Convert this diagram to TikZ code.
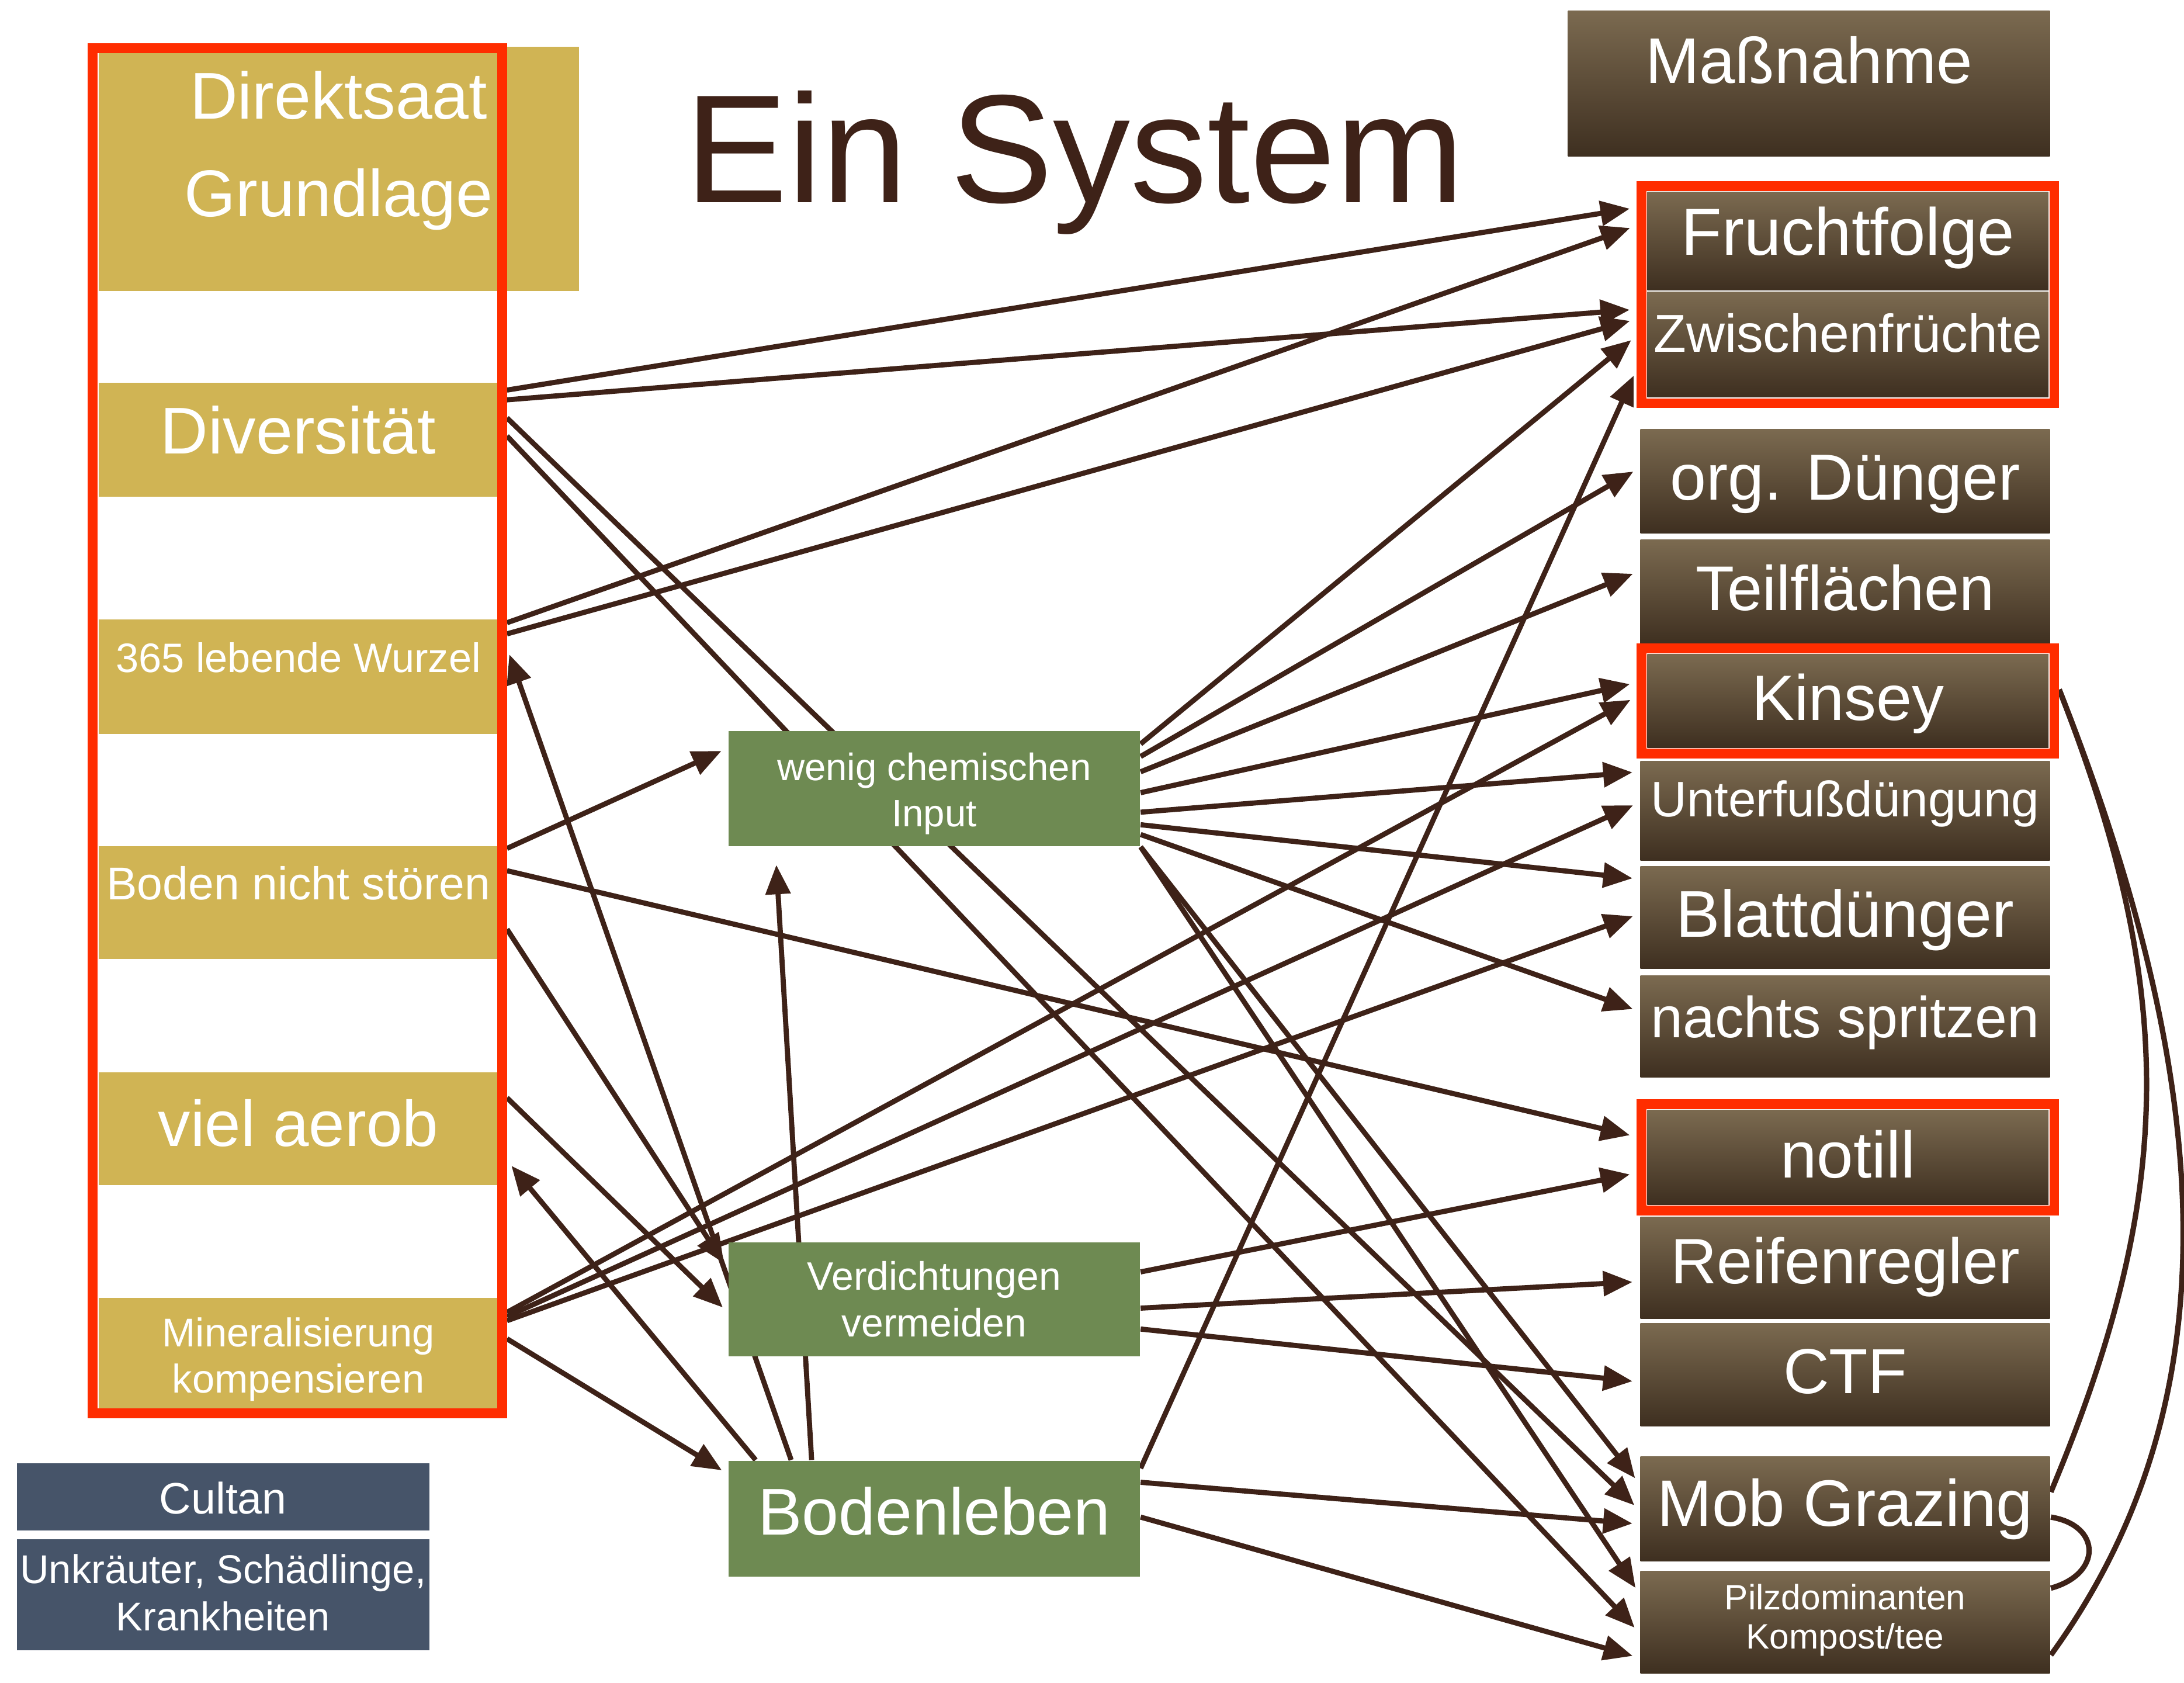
\documentclass[tikz,border=0pt]{standalone}
\usepackage{fontspec}
\setmainfont{Liberation Sans}
\usetikzlibrary{arrows.meta,fit}
\definecolor{GoldBox}{HTML}{D0B454}
\definecolor{GreenBox}{HTML}{6E8A52}
\definecolor{SlateBox}{HTML}{465469}
\definecolor{BrownTop}{HTML}{7B6A50}
\definecolor{BrownBot}{HTML}{3E2F20}
\definecolor{FrameRed}{HTML}{FF2D00}
\definecolor{LinkBrown}{HTML}{3E2218}
\pgfdeclarelayer{bg}
\pgfsetlayers{bg,main}

\begin{document}
\begin{tikzpicture}[x=0.1mm,y=-0.1mm,
  boxbase/.style={anchor=north west,inner sep=0pt,align=center,text=white},
  txt/.style 2 args={font=\fontsize{#1}{#2}\selectfont},
  goldbox/.style={boxbase,fill=GoldBox,minimum width=28.7mm},
  greenbox/.style={boxbase,fill=GreenBox,minimum width=29.5mm},
  slatebox/.style={boxbase,fill=SlateBox,minimum width=29.6mm},
  brownbox/.style={boxbase,top color=BrownTop,bottom color=BrownBot,minimum width=29.4mm},
  redframe/.style={draw=FrameRed,line width=0.7mm,inner sep=0.35mm},
  link/.style={draw=LinkBrown,line width=1.05pt,-{Triangle[length=2.1mm,width=1.75mm]},shorten >=0.5mm},
  curveline/.style={draw=LinkBrown,line width=1.1pt}]
  \useasboundingbox (0,0) rectangle (1568,1208);

  % title
  \node[anchor=base west,inner sep=0pt,text=LinkBrown,txt={31.5}{36}] (tit) at (491,145.4) {Ein System};

  % left column
  \node[goldbox,minimum width=34.5mm,text height=12.16mm,text depth=5.34mm,txt={13.5}{19.9}] (dir) at (70,33) {Direktsaat\\Grundlage};
  \node[goldbox,text height=5.1mm,text depth=3.1mm,txt={13.5}{16}] (div) at (70,274) {Diversität};
  \node[goldbox,text height=3.8mm,text depth=4.4mm,txt={8.4}{10}] (wur) at (70,444) {365 lebende Wurzel};
  \node[goldbox,text height=3.84mm,text depth=4.28mm,txt={9.4}{11}] (bns) at (70,606.6) {Boden nicht stören};
  \node[goldbox,text height=5.3mm,text depth=2.8mm,txt={13.2}{16}] (aer) at (70,769) {viel aerob};
  \node[goldbox,text height=6.8mm,text depth=1.2mm,txt={8.2}{9.4}] (min) at (70,931) {Mineralisierung\\kompensieren};
  \node[redframe,minimum width=29.4mm,minimum height=98mm] (frm) at (213.5,524.5) {};

  \node[slatebox,minimum height=4.84mm,text height=3.64mm,text depth=1.2mm,txt={9}{11}] (cul) at (11.5,1049.6) {Cultan};
  \node[slatebox,text height=6.6mm,text depth=1.4mm,txt={8.2}{9.7}] (unk) at (11.5,1104) {Unkräuter, Schädlinge,\\Krankheiten};

  % middle column
  \node[greenbox,text height=6.88mm,text depth=1.37mm,txt={7.8}{9.5}] (wen) at (522.5,524) {wenig chemischen\\Input};
  \node[greenbox,text height=6.78mm,text depth=1.42mm,txt={8.1}{9.5}] (ver) at (522.5,891) {Verdichtungen\\vermeiden};
  \node[greenbox,text height=5.29mm,text depth=3.01mm,txt={13.5}{16}] (bod) at (522.5,1048) {Bodenleben};

  % right column
  \node[brownbox,minimum width=34.6mm,text height=5.2mm,text depth=5.26mm,txt={13.2}{16}] (mas) at (1125,7) {Maßnahme};
  \node[brownbox,minimum width=28.8mm,text height=4.56mm,text depth=2.5mm,txt={13.6}{16}] (fru) at (1182,137) {Fruchtfolge};
  \node[brownbox,minimum width=28.8mm,text height=4.3mm,text depth=3.25mm,txt={10.9}{13}] (zwi) at (1182,209) {Zwischenfrüchte};
  \node[brownbox,text height=5.05mm,text depth=2.4mm,txt={13.3}{16}] (org) at (1177,307.5) {org. Dünger};
  \node[brownbox,text height=5.07mm,text depth=2.45mm,txt={12.9}{16}] (tei) at (1177,386.8) {Teilflächen};
  \node[brownbox,minimum width=28.8mm,text height=4.75mm,text depth=1.95mm,txt={13.1}{16}] (kin) at (1182,469) {Kinsey};
  \node[brownbox,text height=4.0mm,text depth=3.15mm,txt={10.2}{12}] (unt) at (1177,545.5) {Unterfußdüngung};
  \node[brownbox,text height=5.1mm,text depth=2.25mm,txt={13.5}{16}] (bla) at (1177,621) {Blattdünger};
  \node[brownbox,text height=4.44mm,text depth=2.87mm,txt={11.8}{14}] (nac) at (1177,699.6) {nachts spritzen};
  \node[brownbox,minimum width=28.8mm,text height=4.86mm,text depth=1.94mm,txt={13.4}{16}] (nti) at (1182,796) {notill};
  \node[brownbox,text height=4.76mm,text depth=2.54mm,txt={13.1}{16}] (rei) at (1177,873) {Reifenregler};
  \node[brownbox,text height=5.07mm,text depth=2.33mm,txt={13}{16}] (ctf) at (1177,949) {CTF};
  \node[brownbox,text height=4.98mm,text depth=2.52mm,txt={13.4}{16}] (mob) at (1177,1045) {Mob Grazing};
  \node[brownbox,text height=5.57mm,text depth=1.78mm,txt={7.2}{7.9}] (pil) at (1177,1127) {Pilzdominanten\\Kompost/tee};

  \node[redframe,fit=(fru)(zwi)] (ffz) {};
  \node[redframe,fit=(kin)] (fkn) {};
  \node[redframe,fit=(nti)] (fnt) {};

  \begin{pgfonlayer}{bg}
  % Diversitaet
  \draw[link] (frm.east |- 0,280) -- (ffz.west |- 0,149);
  \draw[link] (frm.east |- 0,287) -- (ffz.west |- 0,222);
  \draw[link] (frm.east |- 0,300) -- (mob.west |- 0,1084);
  \draw[link] (frm.east |- 0,313) -- (pil.west |- 0,1172);
  % 365 lebende Wurzel
  \draw[link] (frm.east |- 0,447) -- (ffz.west |- 0,162);
  \draw[link] (frm.east |- 0,455) -- (ffz.west |- 0,229);
  % Boden nicht stoeren
  \draw[link] (frm.east |- 0,609) -- (wen.west |- 0,537);
  \draw[link] (frm.east |- 0,625) -- (fnt.west |- 0,816);
  \draw[link] (frm.east |- 0,667) -- (ver.west |- 0,911);
  % viel aerob
  \draw[link] (frm.east |- 0,788) -- (ver.west |- 0,942);
  % Mineralisierung
  \draw[link] (frm.east |- 0,942) -- (fkn.west |- 0,500);
  \draw[link] (frm.east |- 0,945) -- (unt.west |- 0,576);
  \draw[link] (frm.east |- 0,948) -- (bla.west |- 0,656);
  \draw[link] (frm.east |- 0,961) -- (bod.west |- 0,1058);
  % wenig chemischen Input
  \draw[link] (wen.east |- 0,534) -- (ffz.west |- 0,241);
  \draw[link] (wen.east |- 0,543) -- (org.west |- 0,336);
  \draw[link] (wen.east |- 0,554) -- (tei.west |- 0,410);
  \draw[link] (wen.east |- 0,569) -- (fkn.west |- 0,490);
  \draw[link] (wen.east |- 0,583) -- (unt.west |- 0,554);
  \draw[link] (wen.east |- 0,592) -- (bla.west |- 0,631);
  \draw[link] (wen.east |- 0,599) -- (nac.west |- 0,726);
  \draw[link] (wen.south east) -- (mob.west |- 0,1065);
  \draw[link] (wen.south east) -- (pil.west |- 0,1144);
  % Verdichtungen vermeiden
  \draw[link] (ver.east |- 0,913) -- (fnt.west |- 0,842);
  \draw[link] (ver.east |- 0,939) -- (rei.west |- 0,920);
  \draw[link] (ver.east |- 0,954) -- (ctf.west |- 0,992);
  % Bodenleben
  \draw[link] (bod.north -| 568,0) -- (frm.east |- 0,465);
  \draw[link] (bod.north -| 542.5,0) -- (frm.east |- 0,833);
  \draw[link,shorten >=1.3mm] (bod.north -| 582.7,0) -- (wen.south -| 556.6,0);
  \draw[link] (bod.east |- 0,1054) -- (ffz.west |- 0,265);
  \draw[link] (bod.east |- 0,1064) -- (mob.west |- 0,1094);
  \draw[link] (bod.east |- 0,1089) -- (pil.west |- 0,1190);
  % curves on the right
  \draw[curveline] (fkn.east |- 0,495) .. controls (1563,711) and (1563,855) .. (mob.east |- 0,1071);
  \draw[curveline] (fkn.east |- 0,495) .. controls (1598,797) and (1598,1015) .. (pil.east |- 0,1188);
  \draw[curveline] (mob.east |- 0,1089) .. controls (1509,1095) and (1509,1130) .. (pil.east |- 0,1140);
  \end{pgfonlayer}
\end{tikzpicture}
\end{document}
